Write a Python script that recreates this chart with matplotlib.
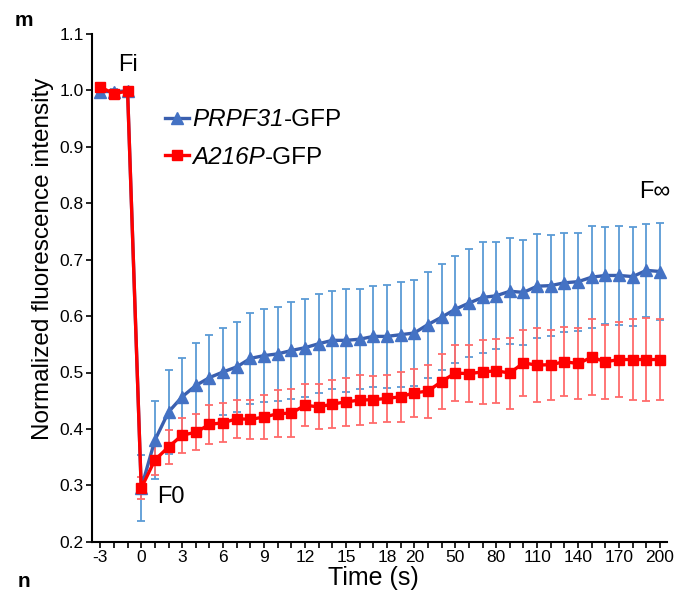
import numpy as np
import matplotlib
matplotlib.use("Agg")
import matplotlib.pyplot as plt

plt.rcParams['font.family'] = ['Liberation Sans', 'DejaVu Sans']

# --- Data ---
times = [-3, -2, -1] + list(range(0, 21)) + list(range(30, 201, 10))
shown_labels = [-3, 0, 3, 6, 9, 12, 15, 18, 20, 50, 80, 110, 140, 170, 200]

wt_mean = [0.998, 0.998, 0.999, 0.295, 0.380, 0.430, 0.457, 0.477, 0.491, 0.501,
           0.510, 0.525, 0.530, 0.533, 0.539, 0.544, 0.551, 0.557, 0.557, 0.559,
           0.564, 0.564, 0.567, 0.570, 0.585, 0.598, 0.612, 0.623, 0.633, 0.636,
           0.644, 0.642, 0.653, 0.654, 0.659, 0.661, 0.669, 0.672, 0.672, 0.670,
           0.681, 0.679]
wt_err = [0.005, 0.005, 0.005, 0.059, 0.069, 0.074, 0.069, 0.076, 0.075, 0.077,
          0.080, 0.081, 0.082, 0.083, 0.086, 0.087, 0.088, 0.087, 0.091, 0.089,
          0.090, 0.091, 0.093, 0.094, 0.094, 0.094, 0.095, 0.096, 0.099, 0.095,
          0.094, 0.093, 0.092, 0.090, 0.088, 0.087, 0.090, 0.086, 0.088, 0.088,
          0.082, 0.086]

mut_mean = [1.006, 0.994, 0.999, 0.295, 0.345, 0.368, 0.389, 0.394, 0.408, 0.411,
            0.418, 0.417, 0.421, 0.427, 0.428, 0.442, 0.439, 0.444, 0.448, 0.451,
            0.452, 0.454, 0.457, 0.464, 0.467, 0.484, 0.499, 0.498, 0.501, 0.503,
            0.499, 0.517, 0.513, 0.514, 0.519, 0.516, 0.527, 0.519, 0.523, 0.523,
            0.523, 0.523]
mut_err = [0.005, 0.005, 0.005, 0.020, 0.027, 0.030, 0.031, 0.032, 0.034, 0.035,
           0.034, 0.034, 0.039, 0.042, 0.042, 0.037, 0.040, 0.043, 0.043, 0.044,
           0.042, 0.042, 0.044, 0.043, 0.047, 0.049, 0.049, 0.051, 0.056, 0.057,
           0.063, 0.059, 0.065, 0.062, 0.061, 0.063, 0.067, 0.066, 0.067, 0.072,
           0.074, 0.071]

x = np.arange(len(times))

fig = plt.figure(figsize=(6.77, 5.96), dpi=100)
ax = fig.add_axes([0.136, 0.091, 0.849, 0.852])

# error bars
ax.errorbar(x, wt_mean, yerr=wt_err, fmt='none', ecolor='#5B9BD5',
            elinewidth=1.3, capsize=3, capthick=1.3, zorder=1)
ax.errorbar(x, mut_mean, yerr=mut_err, fmt='none', ecolor='#FF6B6B',
            elinewidth=1.3, capsize=3, capthick=1.3, zorder=2)

# lines
ax.plot(x, wt_mean, color='#3A5FAF', lw=2.4, marker='^', markersize=8,
        markerfacecolor='#4472C4', markeredgecolor='#4472C4', zorder=3,
        label='PRPF31')
ax.plot(x, mut_mean, color='#FF0000', lw=2.4, marker='s', markersize=7.5,
        markerfacecolor='#FF0000', markeredgecolor='#FF0000', zorder=4,
        label='A216P')

# axes
ax.set_xlim(-0.6, 41.5)
ax.set_ylim(0.2, 1.1)
yt = np.arange(0.2, 1.11, 0.1)
ax.set_yticks(yt)
ax.set_yticklabels([f"{v:.1f}" for v in yt], fontsize=12.5)
ax.set_xticks(x)
ax.set_xticklabels([str(t) if t in shown_labels else '' for t in times], fontsize=12.5)
ax.tick_params(axis='both', direction='out', length=4, width=1.2, pad=2)
for s in ['top', 'right']:
    ax.spines[s].set_visible(False)
for s in ['left', 'bottom']:
    ax.spines[s].set_linewidth(1.5)

ax.set_xlabel('Time (s)', fontsize=18, labelpad=0)
ax.xaxis.set_label_coords(0.489, -0.048, transform=ax.transAxes)
ax.xaxis.label.set_va('top')
ax.set_ylabel('Normalized fluorescence intensity', fontsize=17.5)
ax.yaxis.set_label_coords(-0.067, 0.557)

# legend: italic gene name, upright "-GFP" appended after it
leg = ax.legend(loc='upper left', bbox_to_anchor=(0.11, 0.873), frameon=False,
                fontsize=17.5, handlelength=1.0, handletextpad=0.1,
                labelspacing=0.6, borderaxespad=0)
for t in leg.get_texts():
    t.set_fontstyle('italic')
    ax.annotate('-GFP', xy=(1, 0), xycoords=t, xytext=(0.5, 0),
                textcoords='offset points', ha='left', va='bottom',
                fontsize=17.5, zorder=10)

# annotations
ax.text(2.0, 1.045, 'Fi', fontsize=17, ha='center', va='center')
ax.text(5.2, 0.28, 'F0', fontsize=17, ha='center', va='center')
ax.text(40.6, 0.82, 'F\u221e', fontsize=17, ha='center', va='center')
fig.text(0.035, 0.965, 'm', fontsize=15, fontweight='bold', ha='center', va='center')
fig.text(0.035, 0.025, 'n', fontsize=15, fontweight='bold', ha='center', va='center')

fig.savefig('out.png', dpi=100)
